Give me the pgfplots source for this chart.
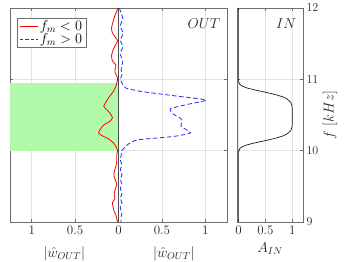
\documentclass[border=0pt]{standalone}
\usepackage{pgfplots}
\pgfplotsset{compat=1.18}
\definecolor{bandgreen}{RGB}{178,250,170}
\definecolor{gridgray}{RGB}{226,226,226}
\definecolor{framegray}{RGB}{110,110,110}
\definecolor{blueline}{RGB}{40,40,245}
\begin{document}
\begin{tikzpicture}[x=1pt,y=1pt]
\pgfplotsset{
  common/.style={
    scale only axis,
    height=214pt,
    ymin=9, ymax=12,
    ytick={9,10,11,12},
    grid=major,
    major grid style={gridgray, line width=0.4pt},
    axis line style={framegray},
    tick style={framegray, line width=0.4pt},
    tick align=inside,
    major tick length=3pt,
    tick label style={font=\fontsize{13}{15}\selectfont, text=black!85},
    clip=false,
  }
}
\begin{axis}[common,
  at={(10pt,40pt)}, anchor=south west,
  width=217pt,
  xmin=-1.25, xmax=1.25,
  xtick={-1,-0.5,0,0.5,1},
  xticklabels={1,0.5,0,0.5,1},
  yticklabels={},
  legend style={at={(axis description cs:0,1)}, anchor=north west, xshift=7pt, yshift=-10pt,
    draw=framegray, font=\fontsize{14}{16}\selectfont, inner xsep=2pt, inner ysep=1pt,
    nodes={inner ysep=1pt}},
  legend cell align=left,
  legend image code/.code={\draw[#1] (0pt,0pt) -- (18pt,0pt);},
]
\addplot[fill=bandgreen, draw=none, forget plot] coordinates {(-1.25,10) (0,10) (0,10.95) (-1.25,10.95)} -- cycle;
\addplot[black!70, line width=0.5pt, forget plot] coordinates {(0,9) (0,12)};
\addlegendimage{draw=red, line width=0.8pt}
\addlegendentry{$f_m<0$}
\addlegendimage{draw=blueline, line width=0.8pt, dash pattern=on 3.5pt off 2pt}
\addlegendentry{$f_m>0$}
\addplot[red, line width=0.8pt, smooth, tension=0.4, forget plot] coordinates {
(-0.01,12.0) (-0.02,11.95) (-0.04,11.9) (-0.06,11.82) (-0.08,11.72) (-0.07,11.65) (-0.03,11.58) (-0.01,11.54) (-0.03,11.49) (-0.06,11.42) (-0.08,11.33) (-0.07,11.26) (-0.03,11.2) (-0.04,11.14) (-0.04,11.1) (-0.02,11.05) (-0.01,11.0)
(-0.02,10.95) (-0.03,10.9) (-0.06,10.83) (-0.09,10.78) (-0.12,10.73) (-0.15,10.67) (-0.17,10.62) (-0.13,10.57) (-0.09,10.51) (-0.07,10.46) (-0.10,10.41) (-0.17,10.36) (-0.21,10.30) (-0.23,10.25) (-0.19,10.21) (-0.12,10.17) (-0.06,10.11) (-0.03,10.06) (-0.01,10.0)
(-0.02,9.95) (-0.02,9.85) (-0.03,9.78) (-0.05,9.7) (-0.05,9.63) (-0.03,9.57) (-0.02,9.52) (-0.04,9.45) (-0.05,9.38) (-0.04,9.33) (-0.07,9.27) (-0.06,9.2) (-0.05,9.15) (-0.03,9.1) (-0.02,9.04) (-0.01,9.0)
};
\addplot[blueline, line width=0.8pt, dash pattern=on 4.5pt off 2.5pt, smooth, tension=0.3, forget plot] coordinates {
(0.01,12.0) (0.03,11.93) (0.05,11.86) (0.03,11.79) (0.02,11.74) (0.05,11.66) (0.04,11.6) (0.02,11.55) (0.05,11.46) (0.03,11.4) (0.02,11.35) (0.05,11.26) (0.04,11.2) (0.03,11.14) (0.04,11.06) (0.02,11.0)
(0.04,10.95) (0.08,10.88) (0.26,10.83) (0.64,10.77) (1.01,10.71) (0.80,10.65) (0.60,10.59) (0.62,10.52) (0.72,10.45) (0.73,10.39) (0.72,10.34) (0.83,10.25) (0.64,10.2) (0.21,10.15) (0.10,10.08) (0.04,10.0)
(0.03,9.93) (0.02,9.87) (0.04,9.8) (0.02,9.73) (0.04,9.66) (0.02,9.6) (0.04,9.53) (0.02,9.47) (0.04,9.4) (0.02,9.33) (0.04,9.27) (0.02,9.2) (0.04,9.13) (0.03,9.07) (0.03,9.0)
};
\node[anchor=north east, font=\fontsize{15}{17}\selectfont, text=black!85] at (rel axis cs:0.985,0.965) {$OUT$};
\node[font=\fontsize{14}{16}\selectfont, text=black!85] at (rel axis cs:0.25,-0.15) {$|\hat{w}_{OUT}|$};
\node[font=\fontsize{14}{16}\selectfont, text=black!85] at (rel axis cs:0.755,-0.15) {$|\hat{w}_{OUT}|$};
\end{axis}
\begin{axis}[common,
  at={(237pt,40pt)}, anchor=south west,
  width=66pt,
  xmin=-0.03, xmax=1.2,
  xtick={0,0.5,1},
  xticklabels={0,0.5,1},
  yticklabel pos=right,
]
\addplot[black!90, line width=0.7pt] coordinates {
(0,9) (0,9.98) (0.005,10.005) (0.022,10.03) (0.067,10.055) (0.152,10.08) (0.279,10.105) (0.43,10.13) (0.582,10.155) (0.715,10.18) (0.82,10.205) (0.894,10.23) (0.971,10.28) (0.995,10.33) (1,10.40) (1,10.48) (1,10.56) (0.995,10.63) (0.971,10.68) (0.894,10.73) (0.82,10.755) (0.715,10.78) (0.582,10.805) (0.43,10.83) (0.279,10.855) (0.152,10.88) (0.067,10.905) (0.022,10.93) (0.005,10.955) (0,10.98) (0,12)
};
\node[anchor=north east, text=black!85, font=\fontsize{15}{17}\selectfont] at (rel axis cs:0.95,0.965) {$IN$};
\node[font=\fontsize{14}{16}\selectfont, text=black!85] at (rel axis cs:0.5,-0.125) {$A_{IN}$};
\node[font=\fontsize{14}{16}\selectfont, text=black!85, rotate=90] at ([xshift=27pt]rel axis cs:1,0.5) {$f\ [kHz]$};
\end{axis}
\pgfresetboundingbox
\path (0,0) rectangle (349,262);
\end{tikzpicture}
\end{document}
